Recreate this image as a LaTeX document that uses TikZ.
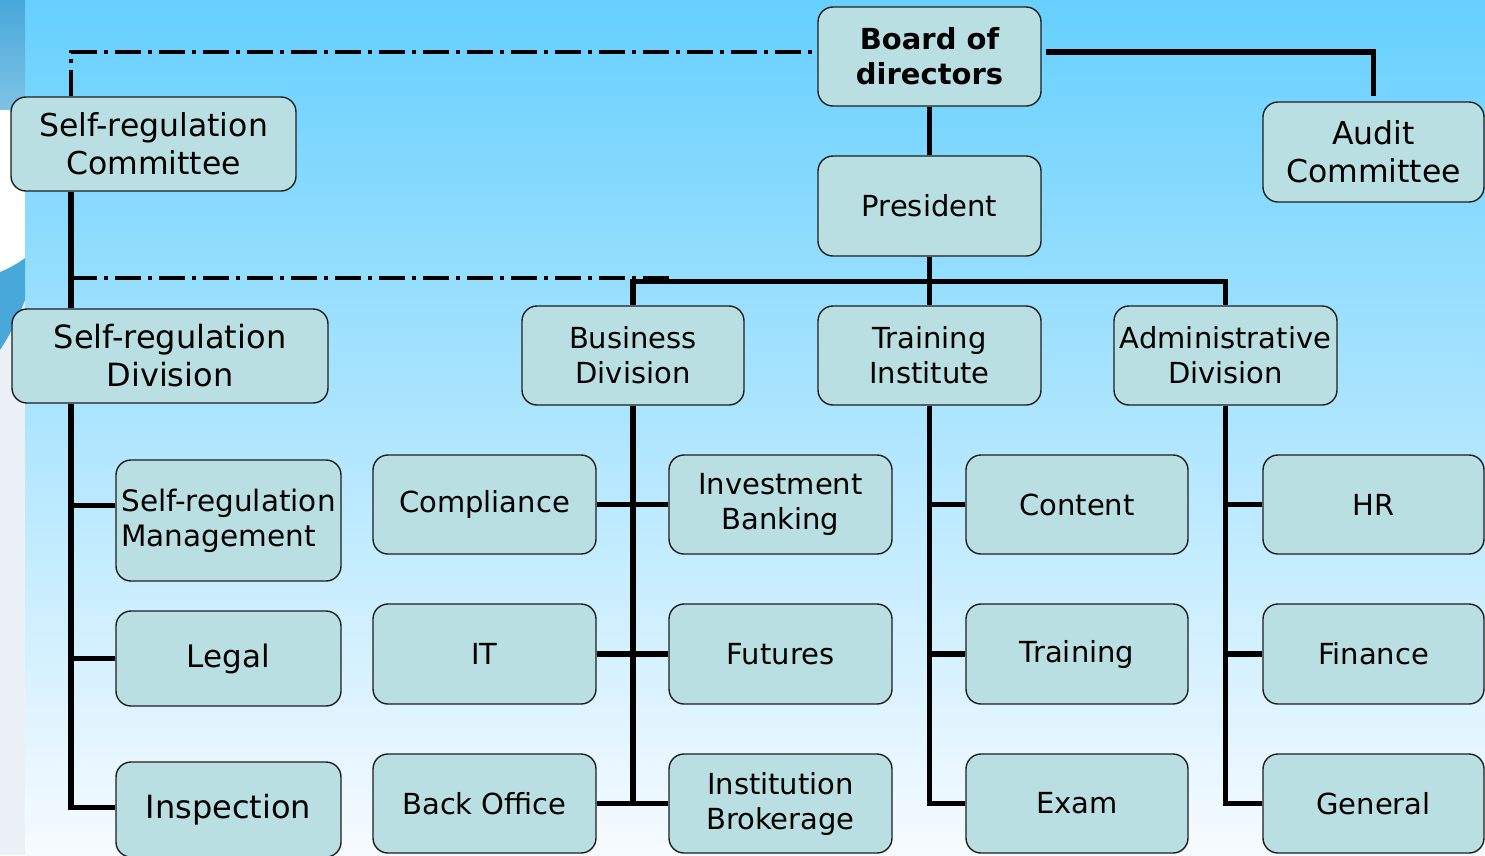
\documentclass[tikz,border=0pt]{standalone}
\usepackage{fontspec}
\setmainfont{DejaVu Sans}
\usepackage{tikz}

\definecolor{boxfill}{RGB}{186,223,226}
\definecolor{boxline}{RGB}{30,30,30}
\definecolor{skytop}{RGB}{102,208,254}
\definecolor{skymid}{RGB}{196,234,255}
\definecolor{skybottom}{RGB}{247,251,255}
\definecolor{stripblue}{RGB}{72,168,218}
\definecolor{stripgray}{RGB}{236,241,247}

\begin{document}
\begin{tikzpicture}[x=1pt, y=-1pt,
    unit/.style={draw=boxline, line width=1.4pt, fill=boxfill, rounded corners=15pt,
        align=center, inner sep=2pt, minimum width=223pt, minimum height=99pt,
        font=\fontsize{29}{35}\selectfont},
    bigunit/.style={unit, font=\fontsize{31.5}{38}\selectfont},
    link/.style={line width=5.5pt},
    liaison/.style={line width=4.5pt, dash pattern=on 26pt off 7pt on 4pt off 7pt}]
    \useasboundingbox (0,0) rectangle (1485,855);

    % backdrop
    \shade[top color=skytop, middle color=skymid, bottom color=skybottom] (25,0) rectangle (1485,855);
    \fill[stripgray] (0,0) rectangle (25,855);
    \shade[top color=stripblue, bottom color=stripblue!70!white] (0,0) rectangle (25,110);
    \fill[white] (0,110) rectangle (25,275);
    \fill[stripblue] (0,272) .. controls (10,268) and (20,262) .. (25,258) -- (25,300)
        .. controls (18,318) and (10,335) .. (0,350) -- cycle;

    % top of the chart
    \node[unit, font=\fontsize{29}{35}\selectfont\bfseries] (board) at (929.5,56.5) {Board of\\directors};
    \node[unit, minimum height=100pt] (pres) at (929.5,206) {President};
    \node[bigunit, minimum width=221pt, minimum height=100pt] (audit) at (1373.5,152) {Audit\\Committee};
    \node[bigunit, minimum width=285pt, minimum height=94pt] (srcom) at (153.5,144) {Self-regulation\\Committee};

    % divisions
    \node[unit, minimum width=316pt, minimum height=94pt, font=\fontsize{32}{38}\selectfont] (srdiv) at (170,356) {Self-regulation\\Division};
    \node[unit, minimum width=222pt] (bus) at (633,355.5) {Business\\Division};
    \node[unit] (inst) at (929.5,355.5) {Training\\Institute};
    \node[unit] (admin) at (1225.5,355.5) {Administrative\\Division};

    % self-regulation units
    \node[unit, minimum width=225pt, minimum height=121pt, align=left, font=\fontsize{29.5}{35}\selectfont] (srmgmt) at (228.5,520.5) {Self-regulation\\Management};
    \node[unit, minimum width=225pt, minimum height=95pt, font=\fontsize{31}{37}\selectfont] (legal) at (228.5,658.5) {Legal};
    \node[unit, minimum width=225pt, minimum height=95pt, font=\fontsize{32}{38}\selectfont] (insp) at (228.5,809.5) {Inspection};

    % business units
    \node[unit] (comp) at (484.5,504.5) {Compliance};
    \node[unit, minimum height=100pt] (it) at (484.5,654) {IT};
    \node[unit] (back) at (484.5,803.5) {Back Office};
    \node[unit] (invest) at (780.5,504.5) {Investment\\Banking};
    \node[unit, minimum height=100pt] (fut) at (780.5,654) {Futures};
    \node[unit] (broker) at (780.5,803.5) {Institution\\Brokerage};

    % institute units
    \node[unit, minimum width=222pt] (content) at (1077,504.5) {Content};
    \node[unit, minimum width=222pt, minimum height=100pt] (train) at (1077,654) {Training};
    \node[unit, minimum width=222pt] (exam) at (1077,803.5) {Exam};

    % administrative units
    \node[unit, minimum width=221pt] (hr) at (1373.5,504.5) {HR};
    \node[unit, minimum width=221pt, minimum height=100pt] (fin) at (1373.5,654) {Finance};
    \node[unit, minimum width=221pt] (gen) at (1373.5,803.5) {General};

    \coordinate (srtrunk) at (71,0);
    \coordinate (liaisonend) at (675,278);

    % board and president
    \draw[link, shorten <=4pt, shorten >=5pt] ([yshift=4.5pt]board.east) -| (audit.north);
    \draw[link] (board) -- (pres);
    \draw[link] (pres.south) -- (inst.north);
    \draw[link] (bus.north) -- ++(0,-24) -| (admin.north);

    % self-regulation line
    \draw[liaison] (srcom.north -| srtrunk) |- ([yshift=4.5pt]board.west);
    \draw[link] (srcom.south -| srtrunk) -- (srdiv.north -| srtrunk);
    \draw[liaison] (srtrunk |- liaisonend) -- (liaisonend);
    \draw[link] (srdiv.south -| srtrunk) |- ([yshift=2pt]insp.west);
    \draw[link] (srtrunk |- legal.west) -- (legal.west);
    \draw[link] ([yshift=15pt]srtrunk |- srmgmt.west) -- ([yshift=15pt]srmgmt.west);

    % business division
    \draw[link] (bus.south) -- (bus.south |- back.east);
    \draw[link] (comp.east) -- (invest.west);
    \draw[link] (it.east) -- (fut.west);
    \draw[link] (back.east) -- (broker.west);

    % institute and administration
    \draw[link] (inst.south) |- (exam.west);
    \draw[link] (admin.south) |- (gen.west);
    \foreach \u in {content, train}
        \draw[link] (inst.south |- \u.west) -- (\u.west);
    \foreach \u in {hr, fin}
        \draw[link] (admin.south |- \u.west) -- (\u.west);
\end{tikzpicture}
\end{document}
